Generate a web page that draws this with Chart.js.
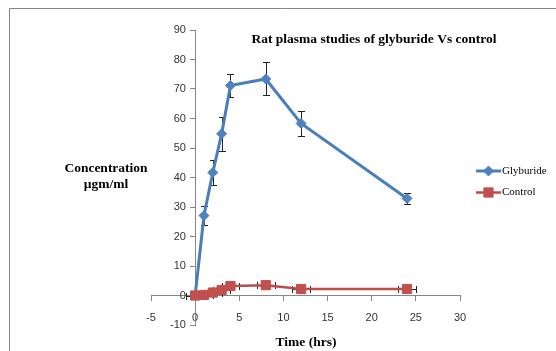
<!DOCTYPE html>
<html>
<head>
<meta charset="utf-8">
<title>Rat plasma studies of glyburide Vs control</title>
<script src="https://cdn.jsdelivr.net/npm/chart.js@4/dist/chart.umd.min.js"></script>
<style>
  html, body { margin: 0; padding: 0; background: #fff; }
  #wrap { position: relative; width: 556px; height: 351px; }
</style>
</head>
<body>
<div id="wrap"><canvas id="plasmaChart" width="556" height="351"></canvas></div>
<script>
// sampling times (hrs) and plasma levels (µgm/ml)
const timePoints = [0, 1, 2, 3, 4, 8, 12, 24];
const glyburide = [0, 27.1, 41.7, 54.8, 71.2, 73.4, 58.3, 32.9];
const glyburideErr = [0, 3.1, 4.2, 5.8, 3.8, 5.6, 4.4, 1.8];
const control = [0, 0.2, 1.0, 1.9, 3.2, 3.5, 2.2, 2.2];
const controlTimeErr = [1, 1, 1, 1, 1, 1, 1, 1];
const xRange = [-5, 30, 5];
const yRange = [-10, 90, 10];

const serif = '"Liberation Serif", "Times New Roman", serif';
const axisGrey = '#868686';

function toPoints(values) {
    return timePoints.map((t, i) => ({ x: t, y: values[i] }));
}

// error bars: vertical for glyburide, horizontal (time) for control
const errorBars = {
    id: 'errorBars',
    beforeDatasetsDraw(chart) {
        const ctx = chart.ctx;
        const xs = chart.scales.x;
        const ys = chart.scales.y;
        const cap = 3.5;
        ctx.save();
        ctx.strokeStyle = '#222';
        ctx.lineWidth = 1;
        ctx.beginPath();
        timePoints.forEach((t, i) => {
            const e = glyburideErr[i];
            if (!e) return;
            const px = Math.round(xs.getPixelForValue(t)) + 0.5;
            const top = Math.round(ys.getPixelForValue(glyburide[i] + e)) + 0.5;
            const bot = Math.round(ys.getPixelForValue(glyburide[i] - e)) + 0.5;
            ctx.moveTo(px, top); ctx.lineTo(px, bot);
            ctx.moveTo(px - cap, top); ctx.lineTo(px + cap, top);
            ctx.moveTo(px - cap, bot); ctx.lineTo(px + cap, bot);
        });
        timePoints.forEach((t, i) => {
            const e = controlTimeErr[i];
            const py = Math.round(ys.getPixelForValue(control[i])) + 0.5;
            const left = Math.round(xs.getPixelForValue(t - e)) + 0.5;
            const right = Math.round(xs.getPixelForValue(t + e)) + 0.5;
            ctx.moveTo(left, py); ctx.lineTo(right, py);
            ctx.moveTo(left, py - cap); ctx.lineTo(left, py + cap);
            ctx.moveTo(right, py - cap); ctx.lineTo(right, py + cap);
        });
        ctx.stroke();
        ctx.restore();
    }
};

// frame, titles and legend
const decorations = {
    id: 'decorations',
    afterDraw(chart) {
        const ctx = chart.ctx;
        ctx.save();

        ctx.strokeStyle = axisGrey;
        ctx.lineWidth = 1;
        ctx.beginPath();
        ctx.moveTo(9.5, 360); ctx.lineTo(9.5, 8.5); ctx.lineTo(560, 8.5);
        ctx.stroke();

        ctx.fillStyle = '#000';
        ctx.textAlign = 'center';
        ctx.textBaseline = 'middle';
        ctx.font = 'bold 13.5px ' + serif;
        ctx.fillText('Rat plasma studies of glyburide Vs control', 374, 40);
        ctx.fillText('Concentration', 106, 169);
        ctx.fillText('µgm/ml', 106, 185);
        ctx.fillText('Time (hrs)', 306, 343);

        ctx.font = '11px ' + serif;
        ctx.textAlign = 'left';
        chart.data.datasets.forEach((ds, i) => {
            const y = 171 + i * 21.5;
            ctx.strokeStyle = ds.borderColor;
            ctx.lineWidth = ds.borderWidth;
            ctx.beginPath();
            ctx.moveTo(476, y); ctx.lineTo(501, y);
            ctx.stroke();
            ctx.fillStyle = ds.pointBackgroundColor;
            ctx.strokeStyle = ds.pointBorderColor;
            ctx.lineWidth = 1;
            Chart.helpers.drawPoint(ctx, {
                pointStyle: ds.pointStyle,
                radius: ds.pointRadius,
                borderWidth: 1
            }, 488.5, y);
            ctx.fillStyle = '#000';
            ctx.fillText(ds.label, 502, y);
        });

        ctx.restore();
    }
};

const tickFont = { family: '"Liberation Sans", Arial, sans-serif', size: 11 };

const chart = new Chart(document.getElementById('plasmaChart'), {
    type: 'line',
    data: {
        datasets: [
            {
                label: 'Glyburide',
                data: toPoints(glyburide),
                borderColor: '#4A7EBB',
                borderWidth: 3,
                pointStyle: 'rectRot',
                pointRadius: 5,
                pointBackgroundColor: '#4F81BD',
                pointBorderColor: '#4F81BD',
                pointBorderWidth: 1,
                order: 2
            },
            {
                label: 'Control',
                data: toPoints(control),
                borderColor: '#BE4B48',
                borderWidth: 2.5,
                pointStyle: 'rect',
                pointRadius: 6.5,
                pointBackgroundColor: '#C0504D',
                pointBorderColor: '#C0504D',
                pointBorderWidth: 1,
                order: 1
            }
        ]
    },
    options: {
        responsive: false,
        animation: false,
        devicePixelRatio: 1,
        layout: { padding: { left: 151, right: 96, top: 30, bottom: 26 } },
        plugins: {
            legend: { display: false },
            title: { display: false },
            tooltip: { enabled: false }
        },
        scales: {
            x: {
                type: 'linear',
                position: { y: 0 },
                min: xRange[0],
                max: xRange[1],
                ticks: { stepSize: xRange[2], font: tickFont, color: '#333', padding: 11, maxRotation: 0 },
                grid: { drawOnChartArea: false, drawTicks: true, tickLength: 5, color: axisGrey },
                border: { display: true, color: axisGrey }
            },
            y: {
                type: 'linear',
                position: { x: 0 },
                min: yRange[0],
                max: yRange[1],
                // labels of an axis placed at x = 0 sit flush on the line; pad them clear of the ticks
                ticks: { stepSize: yRange[2], font: tickFont, color: '#333', callback: v => v + '   ' },
                grid: { drawOnChartArea: false, drawTicks: true, tickLength: 5, color: axisGrey },
                border: { display: true, color: axisGrey }
            }
        }
    },
    plugins: [errorBars, decorations]
});
</script>
</body>
</html>
